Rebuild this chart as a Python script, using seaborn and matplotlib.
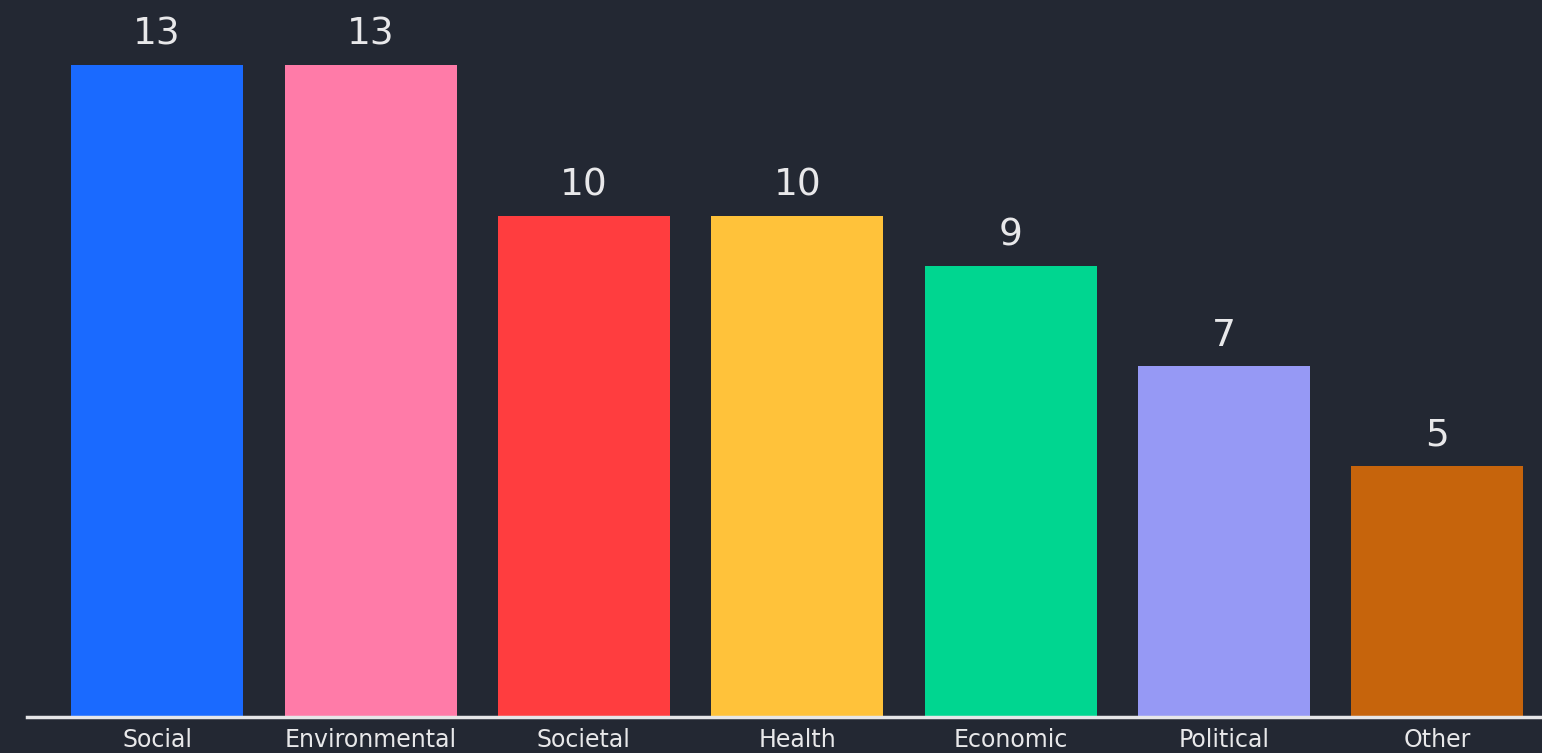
import matplotlib
matplotlib.use("Agg")
import matplotlib.pyplot as plt
import seaborn as sns
import pandas as pd

categories = ["Social", "Environmental", "Societal", "Health", "Economic", "Political", "Other"]
values = [13, 13, 10, 10, 9, 7, 5]
colors = ["#1a6aff", "#ff7ba8", "#ff3d3f", "#ffc23a", "#00d690", "#9699f5", "#c6640c"]

bg = "#232833"
txt = "#e8e8ea"

sns.set_theme(style="white")
plt.rcParams['font.family'] = ['DejaVu Sans']

df = pd.DataFrame({"cat": categories, "val": values})

fig = plt.figure(figsize=(15.42, 7.53), dpi=100, facecolor=bg)
ax = fig.add_axes([0.0175, 0.0478, 0.9825, 0.932])
ax.set_facecolor(bg)

sns.barplot(data=df, x="cat", y="val", hue="cat", palette=colors, legend=False,
            width=0.806, ax=ax, saturation=1, edgecolor="none")

for c in ax.containers:
    ax.bar_label(c, padding=9, fontsize=27, color=txt)

ax.set_xlim(-0.61, 6.49)
ax.set_ylim(0, 14)
ax.set_xlabel("")
ax.set_ylabel("")
ax.set_yticks([])
for s in ["top", "right", "left"]:
    ax.spines[s].set_visible(False)
ax.spines["bottom"].set_color("#e6e6e8")
ax.spines["bottom"].set_linewidth(2.5)
ax.tick_params(axis="x", length=0, pad=8, labelsize=17, labelcolor=txt)

fig.savefig("out.png", dpi=100, facecolor=bg)
